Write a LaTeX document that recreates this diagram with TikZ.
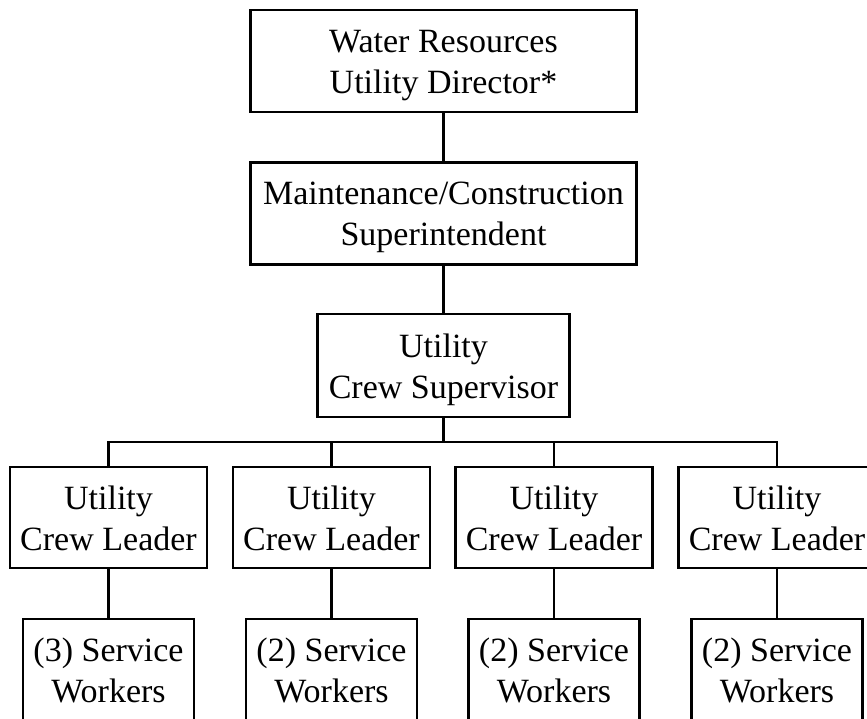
\documentclass[tikz,border=0pt]{standalone}
\usepackage{fontspec}
\setmainfont{Liberation Serif}
\newcommand\twoline[2]{\rule{0pt}{32pt}#1\\#2\rule[-8pt]{0pt}{8pt}}
\begin{document}
\begin{tikzpicture}[x=1pt,y=-1pt,
  orgbox/.style={draw,line width=2.2pt,inner sep=0pt,align=center,
    font=\fontsize{34}{41}\selectfont},
  wide/.style={orgbox,minimum width=386pt,minimum height=102pt},
  mid/.style={orgbox,minimum width=252pt,minimum height=103pt},
  leader/.style={orgbox,minimum width=197pt,minimum height=101pt},
  worker/.style={orgbox,minimum width=171pt,minimum height=102pt},
  conn/.style={line width=2.2pt}]
\clip (0,0) rectangle (867,719);
\useasboundingbox (0,0) rectangle (867,719);
\node[wide] (dir) at (443.5,61) {\twoline{Water Resources}{Utility Director*}};
\node[wide] (sup) at (443.5,213.5) {\twoline{Maintenance/Construction}{Superintendent}};
\node[mid] (crew) at (443.5,365.5) {\twoline{Utility}{Crew Supervisor}};
\node[leader] (l1) at (108.5,517.5) {\twoline{Utility}{Crew Leader}};
\node[leader] (l2) at (331.5,517.5) {\twoline{Utility}{Crew Leader}};
\node[leader] (l3) at (554,517.5) {\twoline{Utility}{Crew Leader}};
\node[leader] (l4) at (777,517.5) {\twoline{Utility}{Crew Leader}};
\node[worker] (w1) at (108.5,670) {\twoline{(3) Service}{Workers}};
\node[worker] (w2) at (331.5,670) {\twoline{(2) Service}{Workers}};
\node[worker] (w3) at (554,670) {\twoline{(2) Service}{Workers}};
\node[worker] (w4) at (777,670) {\twoline{(2) Service}{Workers}};
\coordinate (bar) at (443.5,442);
\draw[conn] (dir.south) -- (sup.north);
\draw[conn] (sup.south) -- (crew.north);
\draw[conn] (crew.south) -- (bar);
\draw[conn] (l1.north) -- (l1.north |- bar) -- (l4.north |- bar) -- (l4.north);
\draw[conn] (l2.north) -- (l2.north |- bar);
\draw[conn] (l3.north) -- (l3.north |- bar);
\foreach \i in {1,2,3,4} {\draw[conn] (l\i.south) -- (w\i.north);}
\end{tikzpicture}
\end{document}
